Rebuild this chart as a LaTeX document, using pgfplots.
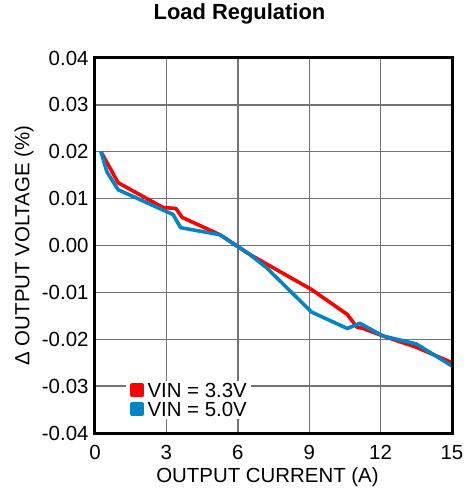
\documentclass[border=0pt]{standalone}
\usepackage{pgfplots}
\pgfplotsset{compat=1.18}
\usepackage{fontspec}
\setmainfont{Liberation Sans}
\definecolor{myred}{RGB}{255,0,0}
\definecolor{myblue}{RGB}{0,133,199}
\begin{document}
\begin{tikzpicture}
\begin{axis}[
  name=ax,
  scale only axis,
  width=357bp, height=375bp,
  xmin=0, xmax=15, ymin=-0.04, ymax=0.04,
  clip=false,
  scaled ticks=false,
  xtick={0,3,6,9,12,15},
  xticklabels={0,3,6,9,12,15},
  ytick={-0.04,-0.03,-0.02,-0.01,0,0.01,0.02,0.03,0.04},
  yticklabels={-0.04,-0.03,-0.02,-0.01,0.00,0.01,0.02,0.03,0.04},
  major tick length=0pt,
  tick label style={font=\fontsize{20.5}{21}\selectfont},
  xticklabel style={yshift=-9bp},
  yticklabel style={xshift=-3bp},
  grid=major,
  major grid style={line width=1.4bp, black!55},
  title={\bfseries Load Regulation},
  title style={font=\fontsize{22}{24}\selectfont, at={(rel axis cs:0.5,1)}, anchor=base, yshift=33bp, xshift=-34bp},
  xlabel={OUTPUT CURRENT (A)},
  ylabel={Δ OUTPUT VOLTAGE (\%)},
  xlabel style={font=\fontsize{20.5}{21}\selectfont, at={(rel axis cs:0.5,0)}, anchor=base, yshift=-49bp, xshift=-6bp},
  ylabel style={font=\fontsize{20.5}{21}\selectfont, at={(rel axis cs:-0.1989,0.5)}, anchor=center},
  legend style={at={(rel axis cs:0.263,0.089)}, anchor=center, draw=none, fill=white,
    font=\fontsize{20.5}{21}\selectfont, inner xsep=4bp, inner ysep=2bp, row sep=4bp,
    column sep=3bp, nodes={inner sep=0.5bp, text height=14bp, text depth=0bp}, legend cell align=left},
  legend image code/.code={\fill[#1] (0bp,-5bp) rectangle (10bp,5bp);},
]
\addplot[myred, line width=3.6bp, line join=round] coordinates {
(0.25,0.0200) (0.97,0.0134) (2.86,0.0081) (3.40,0.0079) (3.66,0.0060)
(5.25,0.0023) (6.50,-0.0019) (9.10,-0.0094) (10.60,-0.0147) (11.00,-0.0174)
(11.27,-0.0177) (12.10,-0.0193) (13.50,-0.0217) (15.00,-0.0250)
};
\addlegendentry{VIN = 3.3V}
\addplot[myblue, line width=3.6bp, line join=round] coordinates {
(0.25,0.0200) (0.50,0.0157) (0.97,0.0119) (3.28,0.0066) (3.60,0.0038)
(5.25,0.0023) (6.50,-0.0019) (7.20,-0.0047) (9.10,-0.0142) (10.60,-0.0177)
(11.13,-0.0166) (12.10,-0.0193) (13.50,-0.0210) (15.00,-0.0257)
};
\addlegendentry{VIN = 5.0V}
\draw[line width=3bp, black] (rel axis cs:0,0) rectangle (rel axis cs:1,1);
\end{axis}
\pgfresetboundingbox
\useasboundingbox ([xshift=-95bp,yshift=-64bp]ax.south west) rectangle ([xshift=14bp,yshift=58bp]ax.north east);
\end{tikzpicture}
\end{document}
